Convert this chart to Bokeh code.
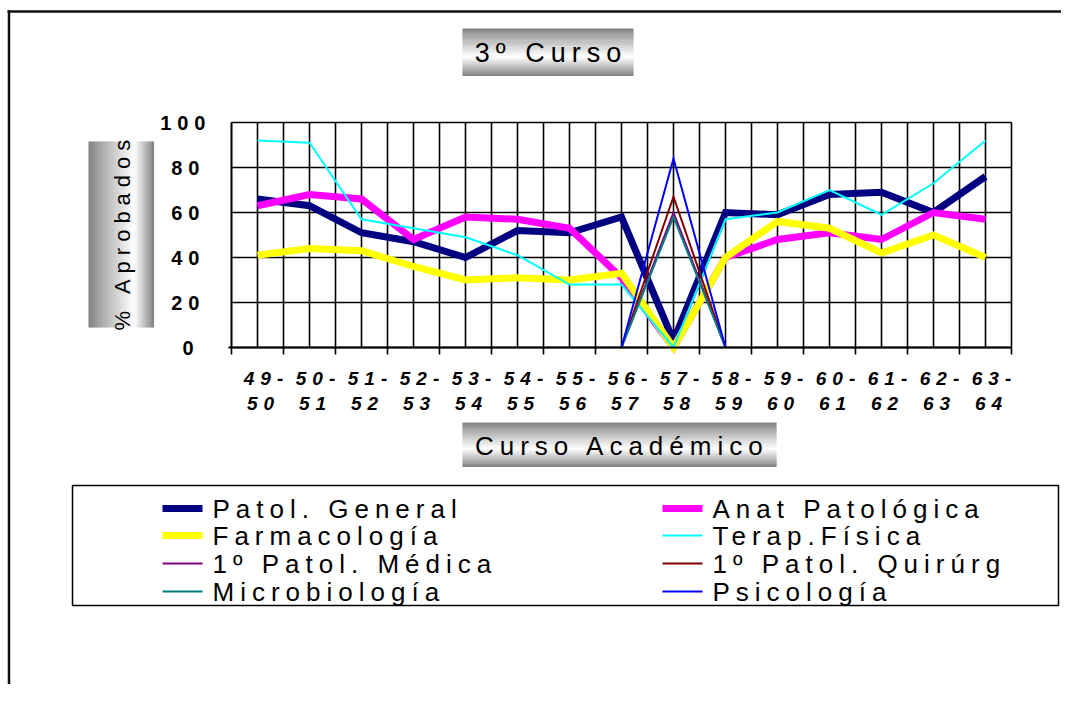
import numpy as np
from bokeh.plotting import figure
from bokeh.models import Range1d, LinearAxis, FixedTicker
from bokeh.embed import file_html
from bokeh.resources import INLINE
from bokeh.core.properties import value

# ---------------- data ----------------
cursos = ["49-50", "50-51", "51-52", "52-53", "53-54", "54-55", "55-56", "56-57",
          "57-58", "58-59", "59-60", "60-61", "61-62", "62-63", "63-64"]
x_tick_labels = ["49-\n50", "50-\n51", "51-\n52", "52-\n53", "53-\n54", "54-\n55", "55-\n56", "56-\n57",
                 "57-\n58", "58-\n59", "59-\n60", "60-\n61", "61-\n62", "62-\n63", "63-\n64"]
y_ticks = [0, 20, 40, 60, 80, 100]
nan = float("nan")

patol_general = [66, 63, 51, 47, 40, 52, 51, 58, 3, 60, 59, 68, 69, 60, 76]
anat_patologica = [63, 68, 66, 48, 58, 57, 53, 31, 0, 40, 48, 51, 48, 60, 57]
farmacologia = [41, 44, 43, 36, 30, 31, 30, 33, 0, 40, 56, 53, 42, 50, 40]
terap_fisica = [92, 91, 57, 53, 49, 41, 28, 28, 0, 57, 60, 70, 59, 73, 92]
patol_medica = [nan, nan, nan, nan, nan, nan, nan, 0, 60, 0, nan, nan, nan, nan, nan]
patol_quirurg = [nan, nan, nan, nan, nan, nan, nan, 0, 67, 0, nan, nan, nan, nan, nan]
microbiologia = [nan, nan, nan, nan, nan, nan, nan, 0, 58, 0, nan, nan, nan, nan, nan]
psicologia = [nan, nan, nan, nan, nan, nan, nan, 0, 84, 0, nan, nan, nan, nan, nan]

series_names = ["Patol. General", "Anat Patológica", "Farmacología", "Terap.Física",
                "1º Patol. Médica", "1º Patol. Quirúrg", "Microbiología", "Psicología"]
series_values = [patol_general, anat_patologica, farmacologia, terap_fisica,
                 patol_medica, patol_quirurg, microbiologia, psicologia]

title_text = "3º Curso"
y_title = "% Aprobados"
x_title = "Curso Académico"

# ---------------- style / layout ----------------
series_colors = ["#000080", "#FF00FF", "#FFFF00", "#00FFFF", "#800080", "#800000", "#008080", "#0000FF"]
series_widths = [7, 7, 7, 2, 2, 2, 2, 2]
FONT = "Liberation Sans"
LS = 6  # letter spacing (px) applied through CSS

W, H = 1061, 684
PL, PR, PT, PB = 231, 1011, 122, 347          # plot area in canvas pixels
n = len(cursos)
sx = (PR - PL) / n
sy = (PB - PT) / 100.0

p = figure(width=W, height=H, x_range=Range1d(0, W), y_range=Range1d(H, 0),
           output_backend="svg", toolbar_location=None, min_border=0,
           x_axis_location=None, y_axis_location=None, title=None)
p.grid.grid_line_color = None
p.grid.visible = False
p.outline_line_color = None
p.background_fill_color = "white"
p.border_fill_color = "white"
p.styles = {"letter-spacing": f"{LS}px"}
p.extra_x_ranges = {"cat": Range1d(-PL / sx, (W - PL) / sx)}
p.extra_y_ranges = {"pct": Range1d(-(H - PB) / sy, PB / sy)}

# outer chart border (left and top visible)
p.line(x=[7, W], y=[11, 11], line_color="#111111", line_width=2.5)
p.line(x=[8.5, 8.5], y=[10, H], line_color="#111111", line_width=2.5)


def grey(t, peak):
    u = t / peak if t <= peak else (1 - t) / (1 - peak)
    L = 0.50 + 0.50 * (u ** 0.9)
    v = int(round(255 * L))
    return "#%02x%02x%02x" % (v, v, v)


def gradient_box(l, r, t, b, vertical=True, peak=0.6, steps=40):
    lefts, rights, tops, bottoms, cols = [], [], [], [], []
    for k in range(steps):
        f0, f1 = k / steps, (k + 1) / steps
        c = grey((f0 + f1) / 2, peak)
        if vertical:   # colour varies top -> bottom
            lefts.append(l); rights.append(r)
            tops.append(t + (b - t) * f0); bottoms.append(t + (b - t) * f1 + 0.6)
        else:          # colour varies left -> right
            lefts.append(l + (r - l) * f0); rights.append(l + (r - l) * f1 + 0.6)
            tops.append(t); bottoms.append(b)
        cols.append(c)
    p.quad(left=lefts, right=rights, top=tops, bottom=bottoms, fill_color=cols, line_color=None)


def spaced_center(x, s):
    # compensate the trailing growth caused by letter spacing
    return x - (len(s) - 1) * LS / 2.0


# title box
gradient_box(462, 633, 28, 75, vertical=True, peak=0.6)
p.text(x=[spaced_center(547.5, title_text)], y=[52], text=[title_text],
       text_font=value(FONT), text_font_size=value("27px"), text_align="center",
       text_baseline="middle", text_color="black")

# y title box
gradient_box(88, 153, 141, 327, vertical=False, peak=0.7)
p.text(x=[122], y=[234 + (len(y_title) - 1) * LS / 2.0], text=[y_title], angle=[np.pi / 2],
       text_font=value(FONT), text_font_size=value("22px"), text_align="center",
       text_baseline="middle", text_color="black")

# x title box
gradient_box(462, 776, 422, 466, vertical=True, peak=0.6)
p.text(x=[spaced_center(619, x_title)], y=[445], text=[x_title],
       text_font=value(FONT), text_font_size=value("26px"), text_align="center",
       text_baseline="middle", text_color="black")

# ---------------- plot grid ----------------
vx = [k / 2 for k in range(2 * n + 1)]
p.segment(x0=vx, y0=[0] * len(vx), x1=vx, y1=[100] * len(vx),
          x_range_name="cat", y_range_name="pct", line_color="black", line_width=1.6)
p.segment(x0=[0] * len(y_ticks), y0=y_ticks, x1=[n] * len(y_ticks), y1=y_ticks,
          x_range_name="cat", y_range_name="pct", line_color="black", line_width=1.6)

# ---------------- series ----------------
centers = [i + 0.5 for i in range(n)]
for name, vals, col, w in zip(series_names, series_values, series_colors, series_widths):
    p.line(x=centers, y=np.array(vals, dtype=float), line_color=col, line_width=w,
           line_join="miter", x_range_name="cat", y_range_name="pct")

# ---------------- axes ----------------
yax = LinearAxis(x_range_name="cat", y_range_name="pct", fixed_location=0,
                 ticker=FixedTicker(ticks=y_ticks), bounds=(0, 100))
yax.major_tick_in = 0
yax.major_tick_out = 0
yax.minor_tick_out = 0
yax.axis_line_width = 1.6
yax.major_label_standoff = 38
yax.major_label_text_font = FONT
yax.major_label_text_font_size = "20px"
yax.major_label_text_font_style = "bold"
yax.major_label_text_color = "black"
p.add_layout(yax, "left")

xt = LinearAxis(x_range_name="cat", y_range_name="pct", fixed_location=0,
                ticker=FixedTicker(ticks=list(range(n + 1))), bounds=(-0.06, n))
xt.major_tick_in = 0
xt.major_tick_out = 7
xt.minor_tick_out = 0
xt.major_tick_line_width = 1.6
xt.axis_line_width = 2
xt.major_label_text_color = None
p.add_layout(xt, "below")

xl = LinearAxis(x_range_name="cat", y_range_name="pct", fixed_location=0,
                ticker=FixedTicker(ticks=centers), bounds=(0, n))
xl.axis_line_color = None
xl.major_tick_in = 0
xl.major_tick_out = 0
xl.minor_tick_out = 0
xl.major_label_overrides = {c: lab for c, lab in zip(centers, x_tick_labels)}
xl.major_label_standoff = 20
xl.major_label_text_font = FONT
xl.major_label_text_font_size = "19px"
xl.major_label_text_font_style = "bold italic"
xl.major_label_text_color = "black"
p.add_layout(xl, "below")

# ---------------- legend ----------------
p.quad(left=[72], right=[W - 3], top=[485], bottom=[605], fill_color=None,
       line_color="black", line_width=1.5)
row_y = [508, 535, 563, 591]
col_x = [162, 662]
lx0, lx1, ly, tx, ty = [], [], [], [], []
for i in range(len(series_names)):
    r, c = divmod(i, 2)
    lx0.append(col_x[c]); lx1.append(col_x[c] + 40); ly.append(row_y[r])
    tx.append(col_x[c] + 50); ty.append(row_y[r])
p.segment(x0=lx0, y0=ly, x1=lx1, y1=ly, line_color=series_colors, line_width=series_widths)
p.text(x=tx, y=ty, text=series_names, text_font=value(FONT), text_font_size=value("26px"),
       text_align="left", text_baseline="middle", text_color="black")

open("out.html", "w").write(file_html(p, INLINE))
